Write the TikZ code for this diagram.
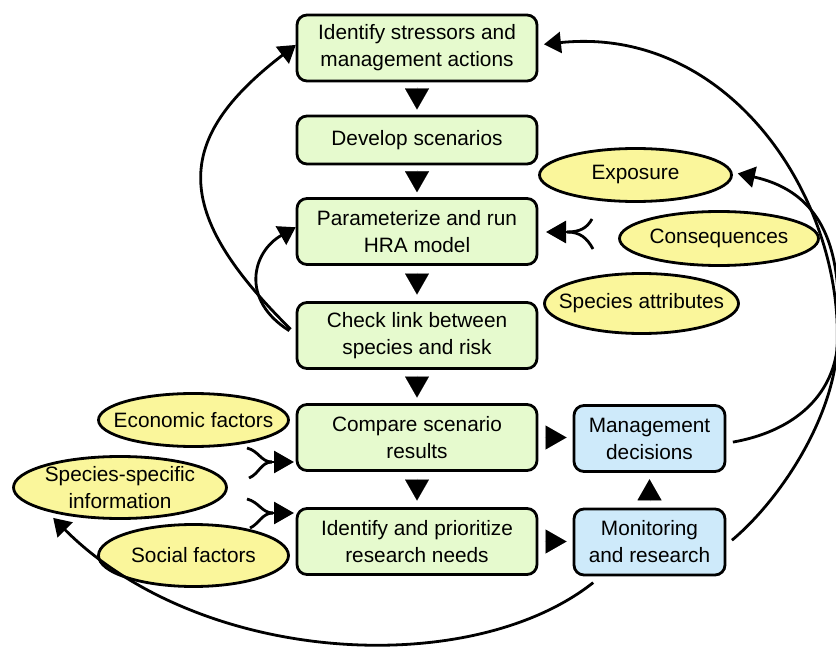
\documentclass[tikz,border=0pt]{standalone}
\usepackage{fontspec}
\setmainfont{Liberation Sans}
\usetikzlibrary{arrows.meta,shapes.geometric}
\definecolor{boxgreen}{RGB}{230,250,206}
\definecolor{boxblue}{RGB}{206,234,250}
\definecolor{ellyellow}{RGB}{250,246,155}
\begin{document}
\begin{tikzpicture}[x=1pt,y=-1pt,
  every node/.style={font=\fontsize{20.8}{27}\selectfont},
  box/.style={draw, line width=2.8pt, rounded corners=10pt, fill=boxgreen,
    minimum width=240pt, minimum height=66pt, align=center, inner sep=0pt, outer sep=0pt},
  bbox/.style={box, fill=boxblue, minimum width=151pt},
  ell/.style={ellipse, draw, line width=2.8pt, fill=ellyellow, inner xsep=-30pt,
    inner ysep=-12pt, outer sep=0pt, align=center},
  tri/.style={line width=0.01pt, -{Triangle[length=21pt,width=24pt]}, shorten <=#1, shorten >=#1},
  link/.style={line width=2.8pt, -{Triangle[length=17pt,width=21pt]}},
  plain/.style={line width=2.8pt}
]
\useasboundingbox (0,0) rectangle (836,650);

% process boxes
\node[box] (b1) at (417,48) {Identify stressors and\\management actions};
\node[box, minimum height=48pt] (b2) at (417,140) {Develop scenarios};
\node[box] (b3) at (417,231.5) {Parameterize and run\\HRA model};
\node[box] (b4) at (417,335.5) {Check link between\\species and risk};
\node[box] (b5) at (417,437.5) {Compare scenario\\results};
\node[box] (b6) at (417,541.5) {Identify and prioritize\\research needs};
\node[bbox] (m1) at (649.5,438.5) {Management\\decisions};
\node[bbox] (m2) at (649.5,542) {Monitoring\\and research};

% ellipses
\node[ell, minimum width=192pt, minimum height=53pt] (ex) at (635.5,175) {Exposure};
\node[ell, minimum width=199pt, minimum height=54pt] (co) at (719,238.5) {Consequences};
\node[ell, minimum width=194pt, minimum height=60pt] (sa) at (641.5,303.5) {Species attributes};
\node[ell, minimum width=190pt, minimum height=53pt] (ec) at (193.5,420) {Economic factors};
\node[ell, minimum width=213pt, minimum height=62pt] (ssi) at (120,487.5) {Species-specific\\information};
\node[ell, minimum width=190pt, minimum height=62pt] (so) at (193.5,555.5) {Social factors};

% triangle arrows
\draw[tri=6.5pt] (b1) -- (b2);
\draw[tri=6.25pt] (b2) -- (b3);
\draw[tri=8pt] (b3) -- (b4);
\draw[tri=7pt] (b4) -- (b5);
\draw[tri=8pt] (b5) -- (b6);
\draw[tri=7.5pt] (b5.east) -- (b5.east -| m1.west);
\draw[tri=7.5pt] (b6.east) -- (b6.east -| m2.west);
\draw[tri=7.75pt] (m2) -- (m1);

% left loops
\draw[link, shorten <=9pt, shorten >=1.5pt] (b4.west) .. controls (172,212) and (172,140) .. ([yshift=4pt]b1.west);
\draw[link, shorten <=9pt, shorten >=1.5pt] (b4.west) .. controls (240,300) and (252,252) .. ([yshift=5pt]b3.west);

% right loops
\draw[link, shorten <=8pt, shorten >=7pt] ([yshift=-5pt]m1.east) .. controls (790,432) and (830,400) .. (837,350)
  .. controls (845,200) and (730,25) .. ([yshift=3pt]b1.east);
\draw[link, shorten <=9pt, shorten >=6.5pt] ([yshift=-4pt]m2.east) .. controls (780,500) and (832,420) .. (837,350)
  .. controls (843,270) and (835,195) .. ([yshift=3pt]ex.east);

% bottom loop
\draw[link, shorten <=1pt, shorten >=12pt] ([xshift=20pt,yshift=-7pt]m2.south west) .. controls (470,680) and (200,665) .. (ssi.south west);

% input forks
\coordinate (f1) at (567,232);
\coordinate (f1u) at (592,219);
\coordinate (f1d) at (593,249);
\draw[plain] (f1) .. controls (580,232) and (587,228) .. (f1u);
\draw[plain] (f1) .. controls (580,232) and (587,238) .. (f1d);
\draw[link, -{Triangle[length=20pt,width=22pt]}, shorten >=9pt] (f1) -- (f1 -| b3.east);

\coordinate (f2) at (272,462);
\coordinate (f2u) at (247,448);
\coordinate (f2d) at (249,478);
\draw[plain] (f2u) .. controls (259,451) and (261,462) .. (f2);
\draw[plain] (f2d) .. controls (259,474) and (261,462) .. (f2);
\draw[link, -{Triangle[length=20pt,width=22pt]}, shorten >=3pt] (f2) -- (f2 -| b5.west);

\coordinate (f3) at (273,513);
\coordinate (f3u) at (247,499);
\coordinate (f3d) at (250,528);
\draw[plain] (f3u) .. controls (259,502) and (262,513) .. (f3);
\draw[plain] (f3d) .. controls (259,524) and (262,513) .. (f3);
\draw[link, -{Triangle[length=20pt,width=22pt]}, shorten >=3pt] (f3) -- (f3 -| b6.west);
\end{tikzpicture}
\end{document}
